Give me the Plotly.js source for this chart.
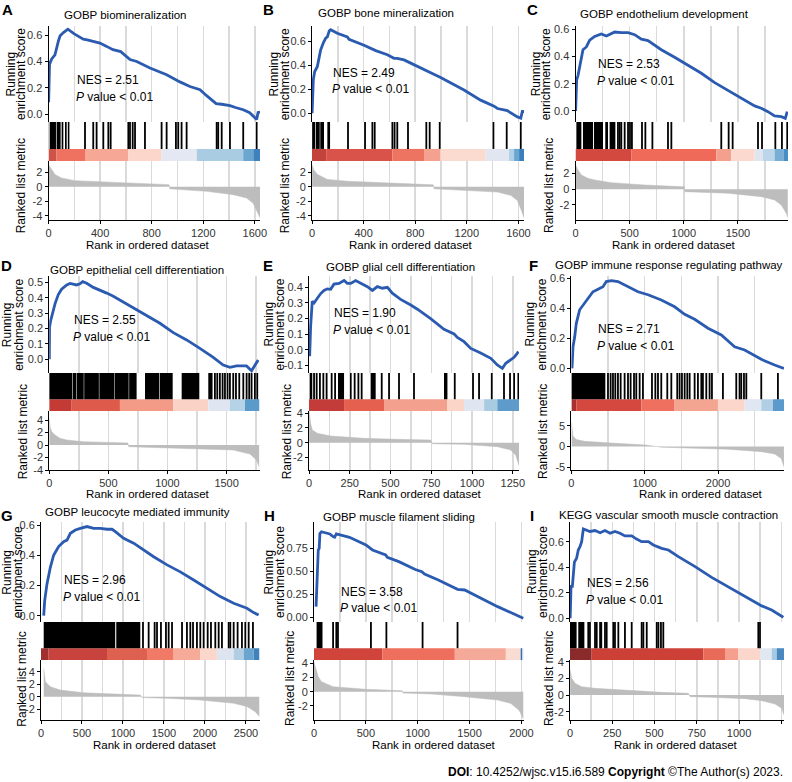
<!DOCTYPE html>
<html><head><meta charset="utf-8">
<script src="https://cdn.plot.ly/plotly-3.0.1.min.js"></script>
<style>html,body{margin:0;padding:0;background:#fff}#chart{width:792px;height:782px}</style>
</head><body><div id="chart"></div>
<script>
// ================= DATA =================
const panelIds = ['A','B','C','D','E','F','G','H','I'];
const panelTitles = ['GOBP biomineralization','GOBP bone mineralization','GOBP endothelium development',
  'GOBP epithelial cell differentiation','GOBP glial cell differentiation','GOBP immune response regulating pathway',
  'GOBP leucocyte mediated immunity','GOBP muscle filament sliding','KEGG vascular smooth muscle contraction'];
const nesValues = ['2.51','2.49','2.53','2.55','1.90','2.71','2.96','3.58','2.56'];
const pValueLabel = 'value &lt; 0.01';
const xTitle = 'Rank in ordered dataset';
const yTitleES = ['Running','enrichment score'];
const yTitleRank = 'Ranked list metric';
const footer = '<b>DOI</b>: 10.4252/wjsc.v15.i6.589 <b>Copyright</b> ©The Author(s) 2023.';

// --- A ---
const A_esRank = [1,4,8,25,50,77,90,116,150,200,270,300,399,451,500,560,632,684,787,916,1019,1097,1175,1226,1300,1343,1407,1450,1510,1560,1600,1614,1625,1640];
const A_esVal  = [0.09,0.22,0.38,0.42,0.45,0.556,0.595,0.62,0.646,0.61,0.57,0.565,0.54,0.515,0.49,0.475,0.415,0.40,0.35,0.30,0.245,0.21,0.186,0.14,0.08,0.075,0.064,0.05,0.033,0.01,-0.03,-0.04,0.013,0.015];
const A_blocks = [[1,6],[11,58],[63,94],[102,115],[128,141],[150,162]];
const A_hits = [283,347,373,425,464,482,619,632,653,671,748,877,916,988,1006,1032,1071,1304,1316,1343,1407,1510,1614];
const A_cbEdges = [0,60,283,619,877,1149,1510,1588,1640];
const A_cbColors = ['#cd5248','#ef715f','#f6a796','#fcd6ca','#e3e8f2','#aacce2','#6aa6d0','#3f80bd'];
const A_rkRank = [1,10,25,50,100,204,462,720,935,940,1226,1433,1536,1587,1626,1640];
const A_rkVal  = [3.0,2.7,2.36,1.67,1.2,0.83,0.6,0.42,0.28,-0.3,-0.65,-1.1,-1.57,-2.3,-3.65,-4.3];

// --- B ---
const B_esRank = [1,10,21,41,54,67,88,106,119,134,145,196,274,287,403,455,481,494,584,636,661,713,765,868,920,997,1178,1307,1411,1437,1514,1592,1618,1630,1643];
const B_esVal  = [0.0,0.28,0.35,0.39,0.46,0.53,0.59,0.63,0.64,0.69,0.70,0.67,0.64,0.62,0.57,0.545,0.536,0.525,0.49,0.46,0.46,0.447,0.42,0.363,0.34,0.30,0.195,0.11,0.06,0.04,0.022,-0.03,-0.04,0.015,0.015];
const B_blocks = [[1,25],[30,60],[64,93],[119,140]];
const B_hits = [279,411,468,486,623,640,661,744,886,912,990,1406,1509,1618];
const B_cbEdges = [0,110,623,868,997,1346,1527,1566,1605,1643];
const B_cbColors = ['#c4423c','#d9534a','#ee7462','#f4a190','#fbdad0','#e1e6f1','#b0d0e6','#6aa6d0','#3a7fbb'];
const B_rkRank = [1,15,41,119,274,661,940,946,1200,1437,1540,1592,1630,1643];
const B_rkVal  = [3.0,2.3,1.7,1.0,0.75,0.4,0.25,-0.3,-0.5,-0.75,-1.2,-1.9,-3.6,-4.3];

// --- C ---
const C_esRank = [1,11,23,38,54,69,100,131,177,238,285,315,362,423,485,546,608,669,731,792,915,1038,1162,1285,1408,1531,1654,1715,1777,1838,1900,1937,1955];
const C_esVal  = [0.0,0.23,0.26,0.33,0.375,0.45,0.47,0.52,0.547,0.566,0.55,0.56,0.58,0.575,0.575,0.56,0.527,0.517,0.485,0.45,0.395,0.338,0.277,0.208,0.15,0.093,0.037,0.02,-0.005,-0.037,-0.042,-0.054,-0.005];
const C_blocks = [[8,54],[69,162],[171,254],[275,300],[315,368]];
const C_hits = [392,408,423,454,485,503,521,614,645,710,854,885,1346,1414,1451,1685,1722,1845,1906,1955];
const C_cbEdges = [0,515,1300,1438,1654,1731,1838,1920,1962];
const C_cbColors = ['#d4493f','#ef6a58','#f3a08e','#fbd9cf','#dfe5ef','#bcd6e9','#78add4','#4a8dc3'];
const C_rkRank = [1,23,54,115,177,330,638,977,1005,1010,1408,1715,1838,1900,1946,1960];
const C_rkVal  = [3.1,2.47,1.83,1.4,1.19,0.85,0.55,0.34,0.32,-0.3,-0.51,-0.94,-1.36,-2.0,-3.06,-3.6];

// --- D ---
const D_esRank = [1,3,12,29,49,77,105,148,176,232,260,283,317,373,429,486,542,598,655,711,824,936,1049,1162,1274,1387,1471,1528,1584,1668,1711,1739,1767];
const D_esVal  = [0.0,0.21,0.25,0.30,0.36,0.42,0.455,0.483,0.493,0.483,0.49,0.504,0.494,0.467,0.45,0.43,0.41,0.385,0.364,0.338,0.288,0.234,0.173,0.126,0.071,0.013,-0.037,-0.052,-0.043,-0.043,-0.074,-0.037,-0.004];
const D_blocks = [[0,195],[199,230],[234,292],[296,420],[424,552],[556,672],[676,739],[810,931],[936,1044],[1120,1269],[1345,1381]];
const D_hits = [1401,1421,1443,1466,1486,1508,1528,1556,1579,1607,1641,1669,1691,1711,1739,1759];
const D_cbEdges = [0,190,598,1049,1345,1528,1655,1778];
const D_cbColors = ['#c43b36','#de5a4b','#f49b88','#fad2c6','#dfe6f1','#b5d2e7','#5b9bcc'];
const D_rkRank = [1,7,21,49,91,148,289,570,665,672,852,1274,1556,1697,1753,1776];
const D_rkVal  = [4.27,2.93,2.13,1.6,1.07,0.8,0.53,0.37,0.33,-0.27,-0.37,-0.53,-0.8,-1.44,-2.4,-3.5];

// --- E ---
const E_esRank = [4,10,20,31,51,72,92,112,133,153,184,215,235,256,286,317,358,389,419,450,481,511,542,562,624,665,746,828,890,910,951,992,1053,1115,1155,1186,1207,1237,1258,1278,1284];
const E_esVal  = [-0.04,0.15,0.31,0.30,0.33,0.36,0.38,0.39,0.387,0.42,0.425,0.443,0.425,0.425,0.443,0.425,0.404,0.38,0.404,0.394,0.40,0.362,0.34,0.323,0.287,0.26,0.20,0.132,0.102,0.08,0.053,0.01,-0.02,-0.053,-0.096,-0.117,-0.085,-0.064,-0.047,-0.02,-0.01];
const E_blocks = [[4,20],[178,215],[378,409],[828,849]];
const E_hits = [31,47,67,88,108,139,160,256,280,303,323,446,491,552,644,894,1006,1043,1121,1196,1233,1258,1284];
const E_cbEdges = [0,215,460,849,951,1074,1155,1288];
const E_cbColors = ['#c33c3a','#e5604f','#f4a08e','#fbd5c8','#dfe6f1','#a9cbe2','#5e9bcb'];
const E_rkRank = [1,10,20,51,133,337,542,746,757,951,1155,1237,1268,1288];
const E_rkVal  = [4.3,2.6,1.73,1.27,0.91,0.59,0.45,0.36,-0.15,-0.23,-0.55,-1.0,-1.7,-3.1];

// --- F ---
const F_esRank = [8,22,45,67,113,158,226,294,363,431,476,545,635,772,908,1045,1226,1408,1545,1681,1863,2045,2226,2363,2499,2590,2772,2863,2899];
const F_esVal  = [0.0,0.144,0.21,0.30,0.39,0.42,0.467,0.51,0.527,0.544,0.578,0.584,0.578,0.544,0.51,0.49,0.455,0.41,0.36,0.327,0.267,0.222,0.144,0.122,0.082,0.06,0.022,0.007,0.0];
const F_blocks = [[0,463]];
const F_hits = [499,535,567,599,635,672,726,772,808,854,885,931,976,1099,1145,1181,1226,1308,1363,1444,1476,1508,1545,1581,1613,1681,1726,1772,1794,1840,1885,1917,2067,2249,2294,2317,2354,2386,2590,2817];
const F_cbEdges = [0,67,954,1408,1999,2363,2590,2749,2900];
const F_cbColors = ['#a83030','#d54840','#f07060','#f4a592','#fcd6ca','#e1e7f2','#b0cfe5','#5c9acb'];
const F_rkRank = [1,22,67,181,545,1000,1020,1226,1681,2135,2590,2772,2863,2899];
const F_rkVal  = [5.8,2.5,1.67,1.25,0.83,0.42,0.35,-0.17,-0.42,-0.67,-1.25,-1.83,-2.9,-4.9];

// --- G ---
const G_esRank = [33,45,73,114,154,215,276,317,358,419,480,561,642,724,805,866,907,1008,1130,1252,1374,1537,1699,1862,2024,2187,2350,2512,2593,2654];
const G_esVal  = [0.0,0.10,0.21,0.32,0.40,0.457,0.49,0.50,0.545,0.567,0.578,0.59,0.578,0.578,0.572,0.572,0.556,0.512,0.48,0.435,0.39,0.336,0.29,0.236,0.18,0.126,0.082,0.049,0.02,0.004];
const G_blocks = [[33,905],[918,1211]];
const G_hits = [1244,1313,1386,1415,1463,1524,1557,1598,1720,1780,1821,1854,1902,1943,1984,2033,2073,2126,2167,2207,2289,2309,2350,2398,2451,2492,2533,2585];
const G_cbEdges = [0,93,805,1293,1618,1943,2146,2350,2472,2594,2665];
const G_cbColors = ['#a03030','#c8433d','#de6050','#f07a66','#f5ab98','#fbd6ca','#dfe5f0','#b0cde3','#6aa5cf','#3f82bd'];
const G_rkRank = [33,53,114,236,520,927,1211,1232,1537,1943,2350,2512,2614,2665];
const G_rkVal  = [4.5,2.4,1.6,1.05,0.63,0.37,0.26,-0.15,-0.26,-0.53,-1.05,-1.58,-2.4,-3.2];

// --- H ---
const H_esRank = [20,31,41,50,57,72,104,152,184,199,215,247,342,501,549,564,691,707,818,977,1040,1066,1199,1358,1384,1453,1612,1771,1929,2018];
const H_esVal  = [0.116,0.37,0.73,0.75,0.91,0.93,0.92,0.906,0.877,0.87,0.906,0.895,0.87,0.786,0.74,0.732,0.678,0.652,0.605,0.52,0.496,0.47,0.406,0.326,0.304,0.297,0.206,0.116,0.036,-0.01];
const H_blocks = [[25,82]];
const H_hits = [184,215,231,549,698,1047,1384];
const H_cbEdges = [0,660,1358,1850,1993,2010,2025];
const H_cbColors = ['#d0443c','#ee6f5d','#f5a998','#fbdcd2','#2f6fb3','#eef2f8'];
const H_rkRank = [1,41,72,184,501,850,858,1136,1453,1771,1898,1977,2018];
const H_rkVal  = [4.1,2.1,1.41,0.71,0.33,0.14,-0.2,-0.33,-0.71,-1.18,-1.65,-2.6,-3.8];

// --- I ---
const I_esRank = [1,6,14,20,26,39,49,59,69,79,99,118,148,178,207,237,266,296,325,365,394,424,464,493,542,582,641,740,838,937,1035,1114,1134,1193,1262];
const I_esVal  = [0,0.25,0.25,0.35,0.44,0.47,0.535,0.56,0.60,0.70,0.687,0.68,0.687,0.67,0.687,0.666,0.68,0.666,0.645,0.645,0.62,0.60,0.60,0.574,0.548,0.535,0.483,0.405,0.32,0.243,0.17,0.112,0.097,0.065,0.008];
const I_blocks = [[0,39],[49,85]];
const I_hits = [108,118,148,158,178,185,207,217,256,266,286,325,365,424,434,454,513,523,538,552,1114,1124];
const I_cbEdges = [0,128,789,917,996,1124,1193,1223,1266];
const I_cbColors = ['#8b2a2a','#cc4038','#e86a58','#f5a08e','#fbd6ca','#e2e8f2','#a7c9e2','#4a88c0'];
const I_rkRank = [1,10,30,69,148,345,542,700,710,838,1035,1134,1213,1252,1266];
const I_rkVal  = [3.0,2.0,1.4,1.0,0.8,0.52,0.32,0.2,-0.2,-0.28,-0.44,-0.68,-1.08,-1.6,-2.4];

// ================= LAYOUT / STYLE =================
const W = 792, H = 782;
const FONT = '"Liberation Sans", Arial, sans-serif';
const px = x => x / W, py = y => 1 - y / H;
const ES_COLOR = '#2b5bb0', RANK_GREY = '#bdbdbd', GRID = '#dadada', TICKC = '#333333';
const CB_FRAC = 0.31;

const rows = [
  {es:[26,122], hc:[122,161], rk:[161,220], xt:245, rkTy:186},
  {es:[276,373], hc:[373,411], rk:[411,470], xt:494, rkTy:432},
  {es:[522,622], hc:[622,660], rk:[660,720], xt:745, rkTy:679}
];

const data = {
  esRank:[A_esRank,B_esRank,C_esRank,D_esRank,E_esRank,F_esRank,G_esRank,H_esRank,I_esRank],
  esVal:[A_esVal,B_esVal,C_esVal,D_esVal,E_esVal,F_esVal,G_esVal,H_esVal,I_esVal],
  blocks:[A_blocks,B_blocks,C_blocks,D_blocks,E_blocks,F_blocks,G_blocks,H_blocks,I_blocks],
  hits:[A_hits,B_hits,C_hits,D_hits,E_hits,F_hits,G_hits,H_hits,I_hits],
  cbE:[A_cbEdges,B_cbEdges,C_cbEdges,D_cbEdges,E_cbEdges,F_cbEdges,G_cbEdges,H_cbEdges,I_cbEdges],
  cbC:[A_cbColors,B_cbColors,C_cbColors,D_cbColors,E_cbColors,F_cbColors,G_cbColors,H_cbColors,I_cbColors],
  rkRank:[A_rkRank,B_rkRank,C_rkRank,D_rkRank,E_rkRank,F_rkRank,G_rkRank,H_rkRank,I_rkRank],
  rkVal:[A_rkVal,B_rkVal,C_rkVal,D_rkVal,E_rkVal,F_rkVal,G_rkVal,H_rkVal,I_rkVal]
};

const geo = [
  {L:48.5,R:260,row:0,N:1640,maj:400,min:200,esR:[-0.06,0.67],esT:[0,0.2,0.4,0.6],esF:'.1f',rkR:[-4.6,3.54],rkT:[-4,-2,0,2],
   tx:125.5,ty:15,nx:75,ny:80,lx:7,ly:10,yR:10.5,yE:21,yK:21.3,xtx:148},
  {L:312,R:524,row:0,N:1643,maj:400,min:200,esR:[-0.073,0.731],esT:[0,0.2,0.4,0.6],esF:'.1f',rkR:[-4.6,3.54],rkT:[-4,-2,0,2],
   tx:386,ty:13.5,nx:330.7,ny:72.7,lx:268,ly:9,yR:273.5,yE:285.3,yK:285.3,xtx:411},
  {L:575.5,R:788,row:0,N:1962,maj:500,min:250,esR:[-0.081,0.624],esT:[0,0.2,0.4,0.6],esF:'.1f',rkR:[-3.92,3.61],rkT:[-2,0,2],
   tx:664.7,ty:14,nx:596.3,ny:64,lx:532,ly:10,yR:536.3,yE:546.3,yK:549,xtx:674},
  {L:49.2,R:259.5,row:1,N:1778,maj:500,min:250,esR:[-0.089,0.541],esT:[0,0.1,0.2,0.3,0.4,0.5],esF:'.1f',rkR:[-4.0,5.44],rkT:[-4,-2,0,2,4],
   tx:136.7,ty:270,nx:71.7,ny:320,lx:6,ly:265,yR:6.7,yE:18.3,yK:23.3,xtx:148},
  {L:309,R:519,row:1,N:1288,maj:250,min:125,esR:[-0.147,0.472],esT:[-0.1,0,0.1,0.2,0.3,0.4],esF:'.1f',rkR:[-3.72,4.31],rkT:[-2,0,2,4],
   tx:400.7,ty:266.7,nx:332.3,ny:313.3,lx:268,ly:265,yR:268,yE:279,yK:287.3,xtx:420},
  {L:571.4,R:784,row:1,N:2900,maj:1000,min:500,esR:[-0.031,0.615],esT:[0,0.2,0.4,0.6],esF:'.1f',rkR:[-5.7,8.6],rkT:[-5,0,5],
   tx:668.7,ty:265,nx:596.3,ny:329.3,lx:533,ly:265,yR:529,yE:541,yK:543,xtx:701},
  {L:41,R:259.5,row:2,N:2665,maj:500,min:250,esR:[-0.042,0.62],esT:[0,0.2,0.4,0.6],esF:'.1f',rkR:[-3.73,5.87],rkT:[-2,0,2,4],
   tx:137.5,ty:511.7,nx:61.7,ny:580,lx:7,ly:515,yR:6.7,yE:18.3,yK:21.7,xtx:155},
  {L:314,R:524,row:2,N:2025,maj:500,min:250,esR:[-0.051,1.036],esT:[0,0.25,0.5,0.75],esF:'.2f',rkR:[-3.99,4.46],rkT:[-4,-2,0,2,4],
   tx:399,ty:516.7,nx:339,ny:591.7,lx:269,ly:515,yR:268.5,yE:280,yK:290,xtx:434},
  {L:570,R:784,row:2,N:1266,maj:250,min:125,esR:[-0.029,0.754],esT:[0,0.2,0.4,0.6],esF:'.1f',rkR:[-3.0,4.2],rkT:[-2,0,2,4],
   tx:668,ty:515,nx:584.7,ny:583.3,lx:532,ly:515,yR:532,yE:543,yK:549,xtx:676}
];

const traces = [];
const layout = {
  width: W, height: H, margin:{l:0,r:0,t:0,b:0}, paper_bgcolor:'#fff', plot_bgcolor:'rgba(0,0,0,0)',
  showlegend:false, barmode:'overlay', hovermode:false, font:{family:FONT, color:'#000'}, annotations:[]
};

const fmt = (v, f) => f === '.2f' ? v.toFixed(2) : v.toFixed(1);
const ann = (o) => layout.annotations.push(Object.assign({xref:'paper', yref:'paper', showarrow:false}, o));

geo.forEach((g, p) => {
  const r = rows[g.row];
  const iE = 3*p+1, iC = 3*p+2, iK = 3*p+3;
  const nm = i => (i === 1 ? '' : String(i));
  const xd = [px(g.L), px(g.R)];
  const gridX = (showLabels, showGrid) => ({
    domain: xd, range:[0, g.N], tickmode:'linear', tick0:0, dtick:g.maj,
    showgrid: showGrid, gridcolor: GRID, gridwidth: 1.5, zeroline:false,
    minor: showGrid ? {dtick:g.min, tick0:0, showgrid:true, gridcolor:GRID, gridwidth:1.5, ticks:''} : undefined,
    showticklabels: showLabels, ticks: showLabels ? 'outside' : '', ticklen:3, tickcolor:'#000',
    tickfont:{family:FONT, size:11, color:TICKC},
    showline: showLabels, linecolor:'#000', linewidth:1, fixedrange:true
  });
  layout['xaxis'+nm(iE)] = Object.assign(gridX(false, true), {anchor:'y'+nm(iE)});
  layout['xaxis'+nm(iC)] = Object.assign(gridX(false, false), {anchor:'y'+nm(iC)});
  layout['xaxis'+nm(iK)] = Object.assign(gridX(true, true), {anchor:'y'+nm(iK)});

  layout['yaxis'+nm(iE)] = {domain:[py(r.es[1]), py(r.es[0])], range:g.esR, anchor:'x'+nm(iE),
    tickmode:'array', tickvals:g.esT, ticktext:g.esT.map(v => fmt(v, g.esF)),
    showgrid:false, zeroline:false, showline:true, linecolor:'#000', linewidth:1,
    ticks:'outside', ticklen:3, tickcolor:'#000', tickfont:{family:FONT, size:11, color:TICKC}, fixedrange:true};
  layout['yaxis'+nm(iC)] = {domain:[py(r.hc[1]), py(r.hc[0])], range:[0,1], anchor:'x'+nm(iC), visible:false, fixedrange:true};
  layout['yaxis'+nm(iK)] = {domain:[py(r.rk[1]), py(r.rk[0])], range:g.rkR, anchor:'x'+nm(iK),
    tickmode:'array', tickvals:g.rkT, ticktext:g.rkT.map(String),
    showgrid:false, zeroline:false, showline:true, linecolor:'#000', linewidth:1,
    ticks:'outside', ticklen:3, tickcolor:'#000', tickfont:{family:FONT, size:11, color:TICKC}, fixedrange:true};

  traces.push({type:'scatter', mode:'lines', x:data.rkRank[p], y:data.rkVal[p], fill:'tozeroy',
    fillcolor:RANK_GREY, line:{color:RANK_GREY, width:0.5}, xaxis:'x'+nm(iK), yaxis:'y'+nm(iK)});

  const e = data.cbE[p];
  traces.push({type:'bar', x:e.slice(0,-1), width:e.slice(1).map((v,i)=>v-e[i]), offset:0, base:0,
    y:e.slice(0,-1).map(()=>CB_FRAC), marker:{color:data.cbC[p], line:{width:0}},
    xaxis:'x'+nm(iC), yaxis:'y'+nm(iC)});

  const b = data.blocks[p];
  traces.push({type:'bar', x:b.map(v=>v[0]), width:b.map(v=>v[1]-v[0]), offset:0, base:CB_FRAC,
    y:b.map(()=>1-CB_FRAC), marker:{color:'#000', line:{width:0}}, xaxis:'x'+nm(iC), yaxis:'y'+nm(iC)});

  const hx = [], hy = [];
  data.hits[p].forEach(h => { hx.push(h, h, null); hy.push(CB_FRAC, 1, null); });
  traces.push({type:'scatter', mode:'lines', x:hx, y:hy, line:{color:'#000', width:1.8},
    xaxis:'x'+nm(iC), yaxis:'y'+nm(iC)});

  traces.push({type:'scatter', mode:'lines', x:data.esRank[p], y:data.esVal[p],
    line:{color:ES_COLOR, width:2.8}, xaxis:'x'+nm(iE), yaxis:'y'+nm(iE)});

  ann({x:px(g.lx), y:py(g.ly), text:'<b>'+panelIds[p]+'</b>', xanchor:'center', yanchor:'middle',
    font:{family:FONT, size:15, color:'#000'}});
  ann({x:px(g.tx), y:py(g.ty), text:panelTitles[p], xanchor:'center', yanchor:'middle',
    font:{family:FONT, size:11.5, color:'#000'}});
  ann({x:px(g.nx), y:py(g.ny), text:'NES = '+nesValues[p], xanchor:'left', yanchor:'middle',
    font:{family:FONT, size:12, color:'#000'}});
  ann({x:px(g.nx - 1), y:py(g.ny + 16.7), text:'<i>P</i> '+pValueLabel, xanchor:'left', yanchor:'middle',
    font:{family:FONT, size:12, color:'#000'}});
  const esMid = (r.es[0] + r.es[1]) / 2;
  ann({x:px(g.yR), y:py(esMid), text:yTitleES[0], textangle:-90, xanchor:'center', yanchor:'middle',
    font:{family:FONT, size:12, color:'#000'}});
  ann({x:px(g.yE), y:py(esMid), text:yTitleES[1], textangle:-90, xanchor:'center', yanchor:'middle',
    font:{family:FONT, size:12, color:'#000'}});
  ann({x:px(g.yK), y:py(r.rkTy), text:yTitleRank, textangle:-90, xanchor:'center', yanchor:'middle',
    font:{family:FONT, size:12, color:'#000'}});
  ann({x:px(g.xtx), y:py(r.xt), text:xTitle, xanchor:'center', yanchor:'middle',
    font:{family:FONT, size:11.5, color:'#000'}});
});

ann({x:px(785), y:py(772), text:footer, xanchor:'right', yanchor:'middle', font:{family:FONT, size:12, color:'#000'}});

Plotly.newPlot('chart', traces, layout, {staticPlot:true, displayModeBar:false});
</script>
</body></html>
